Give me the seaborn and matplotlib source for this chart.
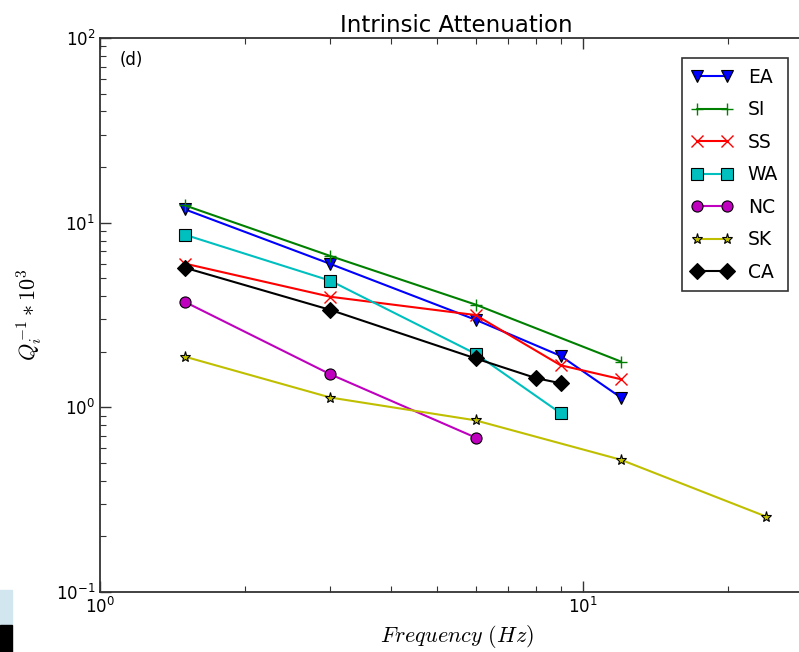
import matplotlib
matplotlib.use("Agg")
import matplotlib.pyplot as plt
import seaborn as sns
from matplotlib.patches import Rectangle

sns.set_theme(style="white", color_codes=False)
plt.rcParams["font.family"] = ["DejaVu Sans"]
plt.rcParams["mathtext.fontset"] = "cm"
plt.rcParams["text.color"] = "black"
plt.rcParams["axes.labelcolor"] = "black"
plt.rcParams["xtick.direction"] = "in"
plt.rcParams["ytick.direction"] = "in"
plt.rcParams["xtick.bottom"] = True
plt.rcParams["xtick.top"] = True
plt.rcParams["ytick.left"] = True
plt.rcParams["ytick.right"] = True

# ---- data ----
freq_EA = [1.5, 3, 6, 9, 12]
EA = [11.8, 5.98, 2.98, 1.90, 1.13]
freq_SI = [1.5, 3, 6, 12]
SI = [12.4, 6.6, 3.6, 1.77]
freq_SS = [1.5, 3, 6, 9, 12]
SS = [6.0, 3.97, 3.16, 1.69, 1.42]
freq_WA = [1.5, 3, 6, 9]
WA = [8.6, 4.85, 1.95, 0.93]
freq_NC = [1.5, 3, 6]
NC = [3.72, 1.51, 0.686]
freq_SK = [1.5, 3, 6, 12, 24]
SK = [1.88, 1.13, 0.85, 0.52, 0.256]
freq_CA = [1.5, 3, 6, 8, 9]
CA = [5.7, 3.37, 1.84, 1.44, 1.35]

series = [
    ("EA", freq_EA, EA, "#0000ff", "v", 9),
    ("SI", freq_SI, SI, "#008000", "+", 9),
    ("SS", freq_SS, SS, "#ff0000", "x", 9),
    ("WA", freq_WA, WA, "#00bfbf", "s", 8),
    ("NC", freq_NC, NC, "#bf00bf", "o", 8),
    ("SK", freq_SK, SK, "#bfbf00", "*", 8),
    ("CA", freq_CA, CA, "#000000", "D", 8),
]

fig = plt.figure(figsize=(7.99, 6.52), dpi=100)
ax = fig.add_axes([100 / 799, 60 / 652, 713 / 799, 554 / 652])

for name, fx, fy, col, mk, ms in series:
    kw = dict(marker=mk, color=col, markersize=ms, linewidth=1.5)
    if mk in ("+", "x"):
        kw.update(markeredgecolor=col, markeredgewidth=1.0)
    else:
        kw.update(markeredgecolor="k", markeredgewidth=0.8, markerfacecolor=col)
    sns.lineplot(x=fx, y=fy, ax=ax, label=name, **kw)

ax.set_xscale("log")
ax.set_yscale("log")
ax.set_xlim(1, 30)
ax.set_ylim(0.1, 100)
for s in ax.spines.values():
    s.set_color("#333333")
    s.set_linewidth(1.3)
ax.xaxis.set_ticks_position("both")
ax.yaxis.set_ticks_position("both")
ax.tick_params(which="both", direction="in", labelsize=12, colors="#333333",
               labelcolor="black")
ax.tick_params(which="major", length=8, width=1.0)
ax.tick_params(which="minor", length=4, width=0.8)

ax.set_title("Intrinsic Attenuation", fontsize=16.5, pad=4)
ax.set_xlabel(r"$Frequency\ (Hz)$", fontsize=16)
ax.set_ylabel(r"$Q_i^{-1}*10^3$", fontsize=16)
ax.yaxis.set_label_coords(-0.078, 0.5)
fig.text(120 / 799, 1 - 60 / 652, "(d)", fontsize=12, va="center", ha="left")

leg = ax.legend(loc="upper right", bbox_to_anchor=(797 / 799, 1 - 49 / 652),
                bbox_transform=fig.transFigure, numpoints=2, fontsize=13.5,
                frameon=True, fancybox=False, labelspacing=0.72, handlelength=2.2,
                borderpad=0.5)
leg.get_frame().set_edgecolor("black")
leg.get_frame().set_linewidth(1.2)

# decorative corner artifact from the source slide
fig.patches.append(Rectangle((0, 27 / 652), 12 / 799, 35 / 652, transform=fig.transFigure,
                             color="#d2e6ef", zorder=0))
fig.patches.append(Rectangle((0, 0), 12 / 799, 27 / 652, transform=fig.transFigure,
                             color="black", zorder=0))

fig.savefig("out.png", dpi=100)
